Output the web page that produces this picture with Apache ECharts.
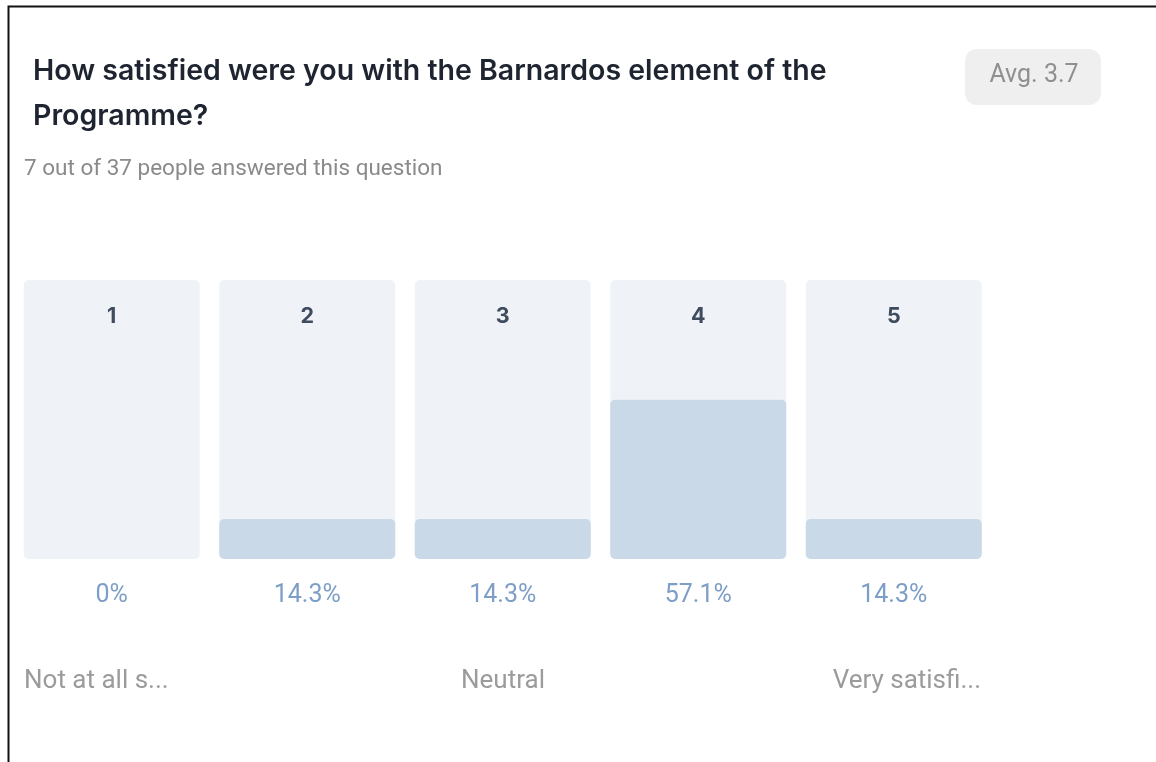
<!DOCTYPE html>
<html>
<head>
<meta charset="utf-8">
<script src="https://cdn.jsdelivr.net/npm/echarts@6/dist/echarts.min.js"></script>
<style>
    html, body { margin: 0; padding: 0; background: #fff; }
    #chart { width: 1156px; height: 762px; }
</style>
</head>
<body>
<div id="chart"></div>
<script>
    // data
    const scores = ['1', '2', '3', '4', '5'];
    const shares = [0, 14.3, 14.3, 57.1, 14.3];
    const scaleLabels = ['Not at all s...', '', 'Neutral', '', 'Very satisfi...'];
    const questionLines = ['How satisfied were you with the Barnardos element of the', 'Programme?'];
    const answeredText = '7 out of 37 people answered this question';
    const avgText = 'Avg. 3.7';

    const chart = echarts.init(document.getElementById('chart'));

    const grid = {left: 14, top: 280, width: 977.5, height: 279};

    let option = {
        animation: false,
        grid: grid,
        xAxis: [
            {
                type: 'category',
                data: scores,
                position: 'top',
                z: 10,
                axisLine: {show: false},
                axisTick: {show: false},
                axisLabel: {
                    inside: true,
                    margin: 26,
                    fontFamily: 'Inter, Roboto, sans-serif',
                    fontWeight: 'bold',
                    fontSize: 21.5,
                    color: '#3e4c5e'
                }
            },
            {
                type: 'category',
                data: shares.map(v => v + '%'),
                position: 'bottom',
                axisLine: {show: false},
                axisTick: {show: false},
                axisLabel: {
                    margin: 24,
                    fontFamily: 'Roboto, sans-serif',
                    fontSize: 25,
                    color: '#7d9ec6'
                }
            }
        ],
        yAxis: {
            type: 'value',
            min: 0,
            max: 100,
            show: false
        },
        series: [
            {
                type: 'bar',
                data: shares,
                barWidth: 176,
                showBackground: true,
                backgroundStyle: {
                    color: '#eff3f8',
                    borderRadius: 5
                },
                itemStyle: {
                    color: '#c9d9e8',
                    borderRadius: 5
                }
            }
        ],
        graphic: [
            {
                type: 'rect',
                shape: {x: 8.5, y: 6.5, width: 1200, height: 800},
                style: {fill: 'none', stroke: '#111', lineWidth: 2}
            },
            {
                type: 'text',
                x: 33,
                y: 71,
                style: {
                    text: questionLines[0],
                    font: '600 28.5px Inter, Roboto, sans-serif',
                    fill: '#1e2430',
                    verticalAlign: 'middle'
                }
            },
            {
                type: 'text',
                x: 33,
                y: 116,
                style: {
                    text: questionLines[1],
                    font: '600 28.5px Inter, Roboto, sans-serif',
                    fill: '#1e2430',
                    verticalAlign: 'middle'
                }
            },
            {
                type: 'text',
                x: 24,
                y: 169,
                style: {
                    text: answeredText,
                    font: '22.5px Roboto, sans-serif',
                    fill: '#8a8a8a',
                    verticalAlign: 'middle'
                }
            },
            {
                type: 'rect',
                shape: {x: 965, y: 49, width: 136, height: 56, r: 12},
                style: {fill: '#efefef'}
            },
            {
                type: 'text',
                x: 1034,
                y: 76,
                style: {
                    text: avgText,
                    font: '25px Roboto, sans-serif',
                    fill: '#8f8f8f',
                    align: 'center',
                    verticalAlign: 'middle'
                }
            },
            {
                type: 'text',
                x: 24,
                y: 681,
                style: {
                    text: scaleLabels[0],
                    font: '26px Roboto, sans-serif',
                    fill: '#9b9b9b',
                    align: 'left',
                    verticalAlign: 'middle'
                }
            },
            {
                type: 'text',
                x: 503,
                y: 681,
                style: {
                    text: scaleLabels[2],
                    font: '26px Roboto, sans-serif',
                    fill: '#9b9b9b',
                    align: 'center',
                    verticalAlign: 'middle'
                }
            },
            {
                type: 'text',
                x: 981,
                y: 681,
                style: {
                    text: scaleLabels[4],
                    font: '26px Roboto, sans-serif',
                    fill: '#9b9b9b',
                    align: 'right',
                    verticalAlign: 'middle'
                }
            }
        ]
    };

    chart.setOption(option);
</script>
</body>
</html>
